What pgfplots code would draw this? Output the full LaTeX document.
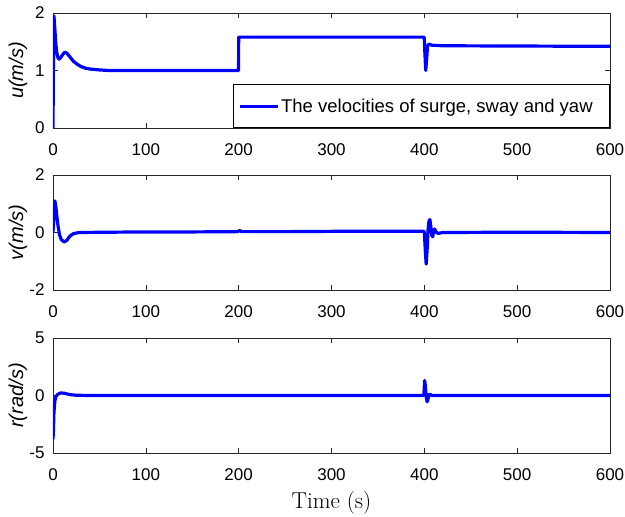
\documentclass[border=0pt]{standalone}
\usepackage{pgfplots}
\pgfplotsset{compat=1.18}
\usepackage{fontspec}
\newfontfamily\arial{Liberation Sans}
\definecolor{axgray}{rgb}{0.15,0.15,0.15}
\begin{document}
\begin{tikzpicture}
\useasboundingbox (0pt,0pt) rectangle (625pt,517pt);
\pgfplotsset{
 every axis/.append style={
  scale only axis, width=557pt, height=115pt, anchor=south west,
  xmin=0, xmax=600, xtick={0,100,...,600}, no markers,
  axis line style={axgray, line width=0.6pt},
  tick style={axgray, line width=0.6pt}, tick align=inside, major tick length=5pt,
  ticklabel style={font=\arial\fontsize{17}{20}\selectfont},
  /pgf/number format/assume math mode=true,
  xticklabel style={yshift=-12pt},
  yticklabel style={xshift=-5pt},
  ylabel style={font=\arial\itshape\fontsize{20}{23}\selectfont, at={(axis description cs:-0.0628,0.5)}, anchor=center},
  every axis plot/.append style={blue, mark=none, line width=3.2pt, line join=round},
 }
}
% top axis
\begin{axis}[at={(53pt,389pt)}, ymin=0, ymax=2, ytick={0,1,2}, ylabel={u(m/s)},
  legend style={at={(1,0)}, anchor=south east, draw=black, line width=0.6pt, fill=white,
    font=\arial\fontsize{18.5}{22}\selectfont, inner xsep=5pt, inner ysep=12pt},
  legend cell align=left,
  legend image code/.code={\draw[line width=3.2pt] (0pt,0pt) -- (38pt,0pt);}]
\addplot coordinates {
(0,0) (0.5,1.2) (1,1.95) (2,1.72) (3,1.47) (4,1.32) (5,1.24) (6,1.2) (7,1.2) (9,1.24) (11,1.29) (13,1.32) (15,1.3) (18,1.24) (22,1.16) (26,1.11) (30,1.07) (35,1.04) (40,1.025) (50,1.01) (60,1.0) (199.9,1.0) (200,1.58) (399.9,1.58) (400.6,1.3) (401.5,1.0) (402.5,1.2) (403.5,1.43) (405,1.46) (408,1.44) (420,1.43) (600,1.42)
};
\addlegendentry{The velocities of surge, sway and yaw\rule{10pt}{0pt}}
\end{axis}
% middle axis
\begin{axis}[at={(53pt,227pt)}, ymin=-2, ymax=2, ytick={-2,0,2}, ylabel={v(m/s)}]
\addplot coordinates {
(0,0) (1,0.6) (2,1.1) (3,0.92) (5,0.32) (7,-0.08) (9,-0.25) (12,-0.33) (15,-0.27) (18,-0.13) (22,-0.04) (28,0) (60,0.01) (100,0.02) (150,0.02) (199,0.03) (201,0.07) (203,0.03) (250,0.03) (300,0.04) (350,0.04) (399,0.04)
(400,0.02) (401,-0.6) (402,-1.1) (403,-0.6) (404,0.1) (405,0.4) (406,0.45) (407,0.2) (408,-0.1) (409,-0.15) (410,0.05) (411,0.12) (413,0) (415,-0.03) (420,0) (500,0.01) (600,0)
};
\end{axis}
% bottom axis
\begin{axis}[at={(53pt,64pt)}, ymin=-5, ymax=5, ytick={-5,0,5}, ylabel={r(rad/s)},
  xlabel={Time (s)}, xlabel style={font=\rmfamily\fontsize{23}{27}\selectfont, at={(axis description cs:0.5,0)}, anchor=center, yshift=-50pt}]
\addplot coordinates {
(0,-3.8) (0.5,-3) (1,-1.5) (2,-0.5) (3,-0.1) (5,0.1) (8,0.22) (12,0.2) (18,0.08) (25,0.02) (40,0) (399.5,0) (400.3,1.3) (401,0.9) (402,-0.1) (403,-0.55) (404,-0.3) (405,0.05) (406,0.12) (408,0) (600,0)
};
\end{axis}
\end{tikzpicture}
\end{document}
